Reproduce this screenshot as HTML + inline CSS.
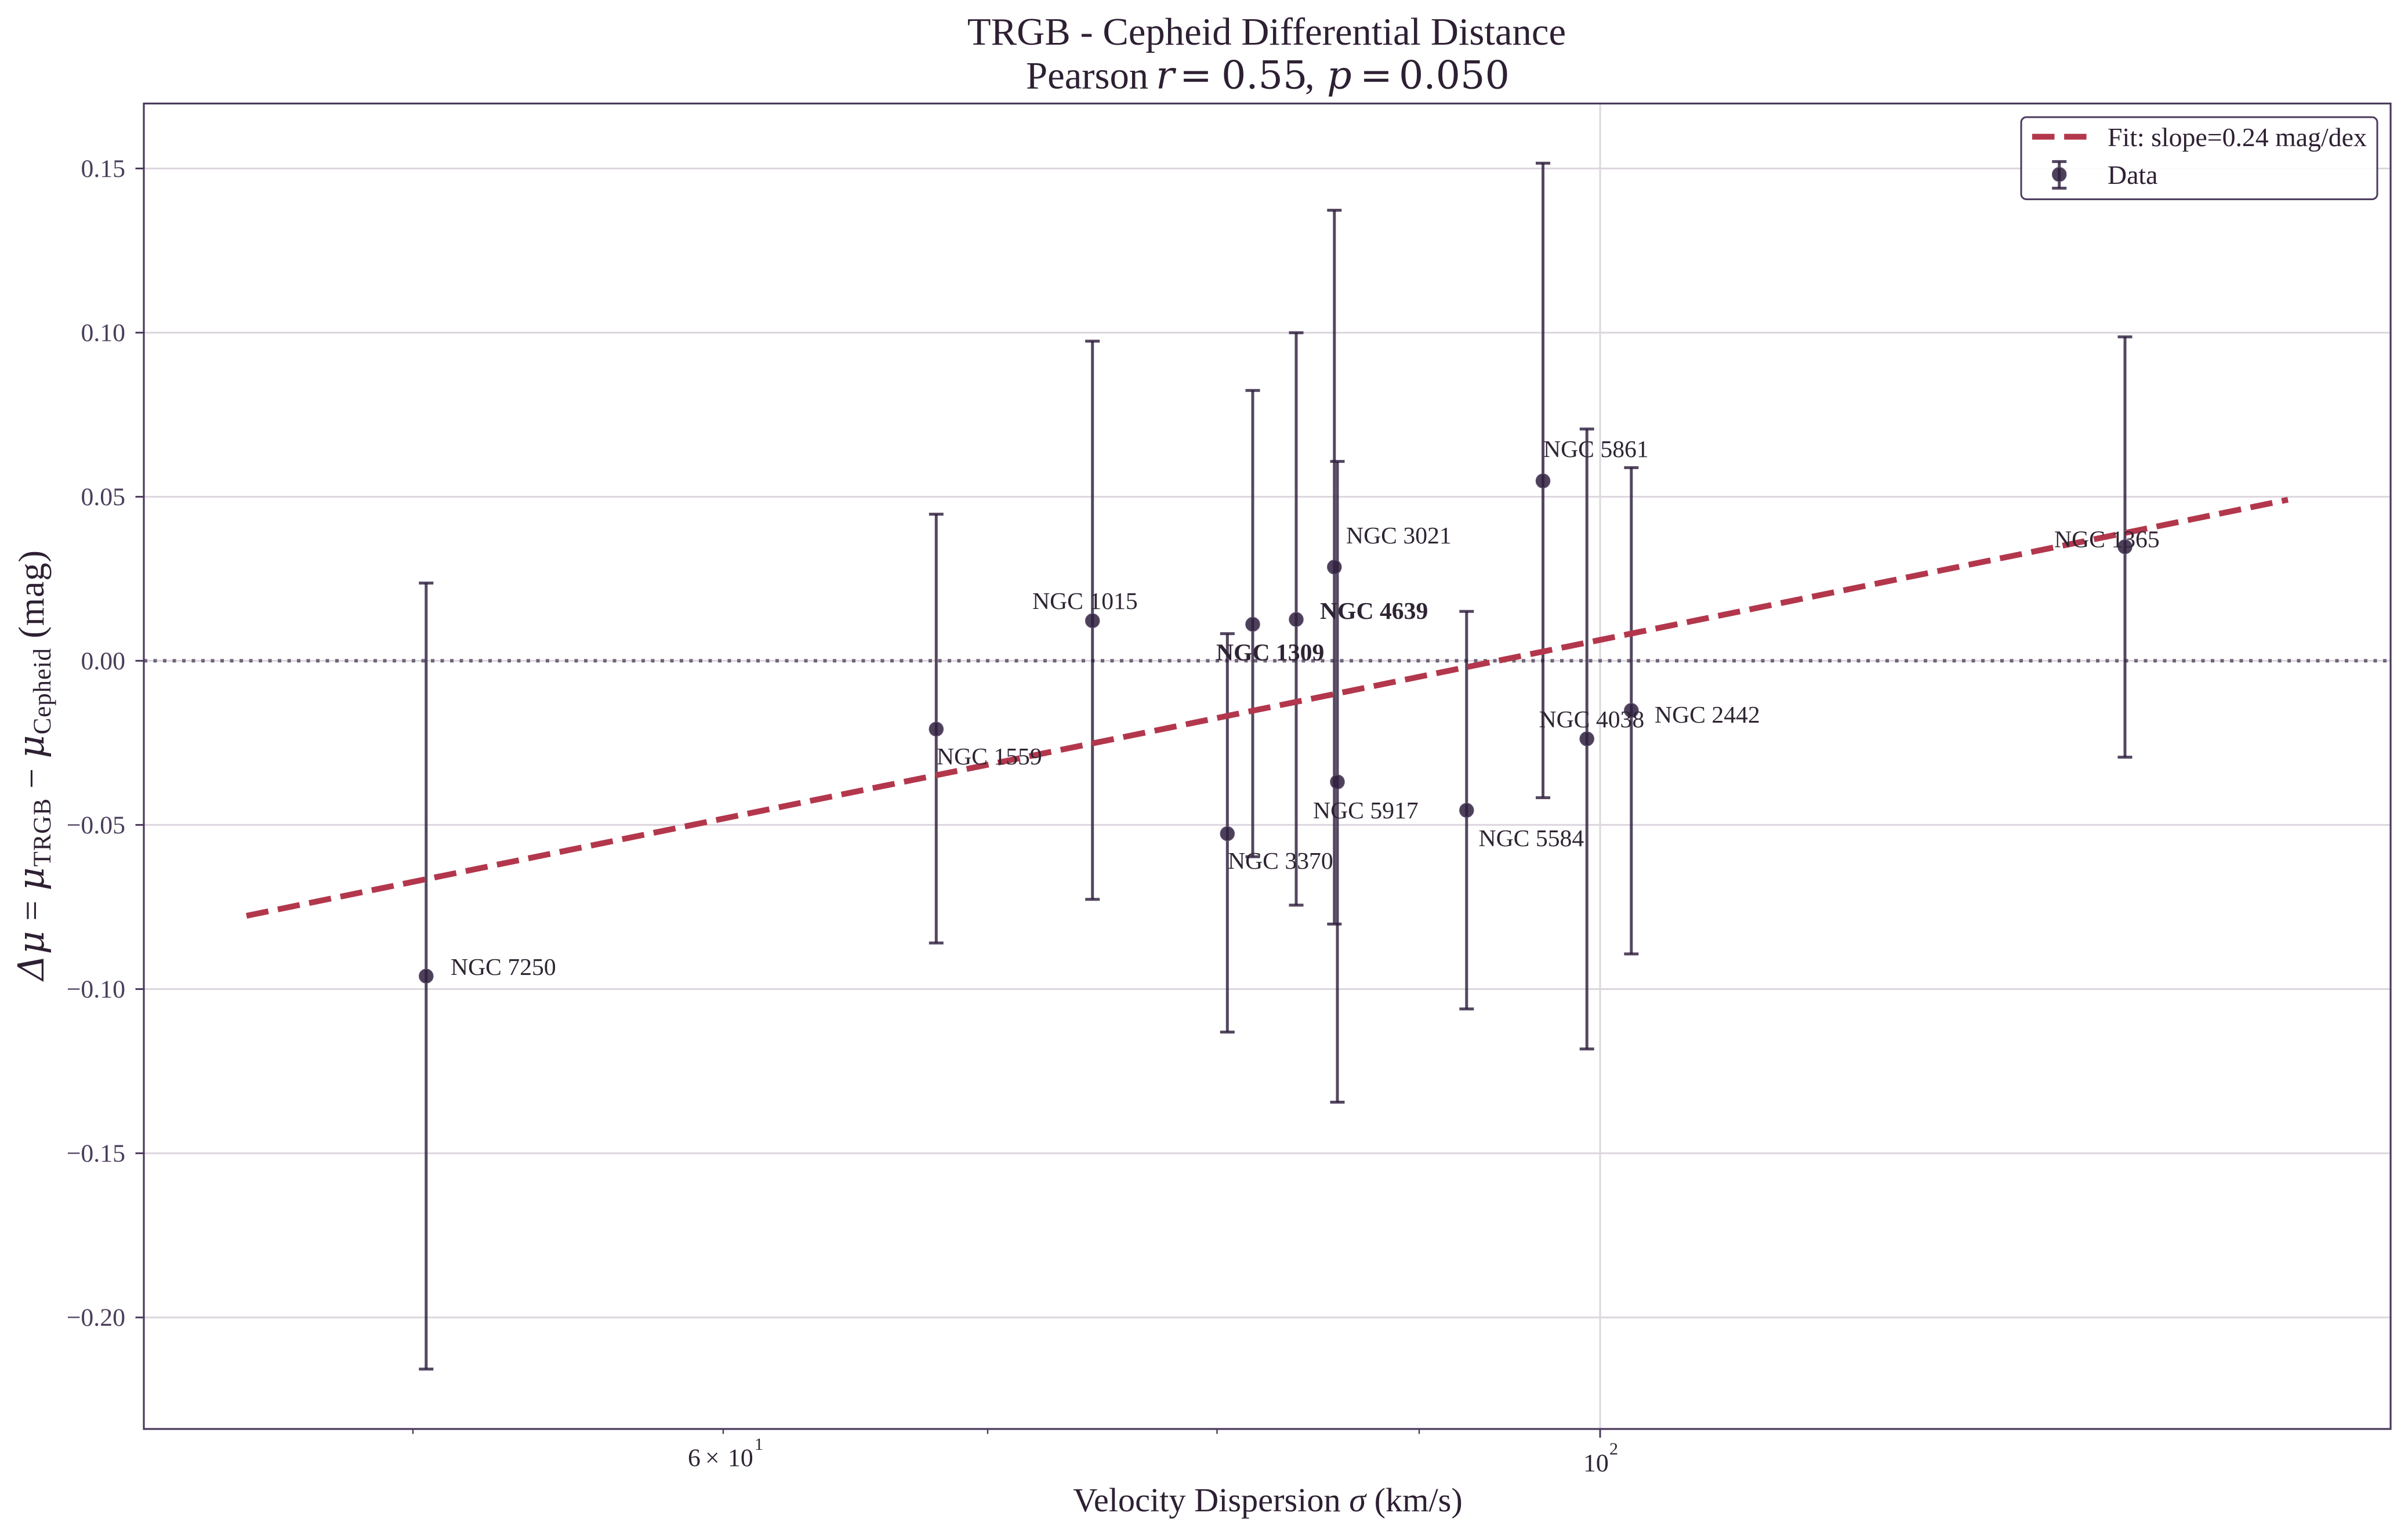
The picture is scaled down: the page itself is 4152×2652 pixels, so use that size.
<!DOCTYPE html>
<html><head><meta charset="utf-8"><style>html,body{margin:0;padding:0;background:#fff}svg{display:block}</style></head>
<body>
<svg xmlns="http://www.w3.org/2000/svg" width="4152" height="2652" viewBox="0 0 4152 2652" font-family="'Liberation Serif', serif">
<rect width="4152" height="2652" fill="#ffffff"/>

<!-- grid -->
<g stroke="#dcd6de" stroke-width="3">
<line x1="248" y1="290.5" x2="4122" y2="290.5"/>
<line x1="248" y1="573.6" x2="4122" y2="573.6"/>
<line x1="248" y1="856.6" x2="4122" y2="856.6"/>
<line x1="248" y1="1139.4" x2="4122" y2="1139.4"/>
<line x1="248" y1="1422.4" x2="4122" y2="1422.4"/>
<line x1="248" y1="1705.5" x2="4122" y2="1705.5"/>
<line x1="248" y1="1988.6" x2="4122" y2="1988.6"/>
<line x1="248" y1="2271.7" x2="4122" y2="2271.7"/>
<line x1="2759" y1="178.5" x2="2759" y2="2464"/>
</g>

<!-- zero line -->
<line x1="248" y1="1139.4" x2="4122" y2="1139.4" stroke="#6f6479" stroke-width="6" stroke-dasharray="6 10.5"/>

<!-- error bars -->
<g stroke="#2e1f3d" stroke-opacity="0.82" stroke-width="5" fill="none">
<line x1="734.8" y1="1005.4" x2="734.8" y2="2360.8"/><line x1="722.3" y1="1005.4" x2="747.3" y2="1005.4"/><line x1="722.3" y1="2360.8" x2="747.3" y2="2360.8"/>
<line x1="1614.3" y1="886.6" x2="1614.3" y2="1626"/><line x1="1601.8" y1="886.6" x2="1626.8" y2="886.6"/><line x1="1601.8" y1="1626" x2="1626.8" y2="1626"/>
<line x1="1883.7" y1="588.3" x2="1883.7" y2="1550.8"/><line x1="1871.2" y1="588.3" x2="1896.2" y2="588.3"/><line x1="1871.2" y1="1550.8" x2="1896.2" y2="1550.8"/>
<line x1="2116.3" y1="1092.6" x2="2116.3" y2="1779.6"/><line x1="2103.8" y1="1092.6" x2="2128.8" y2="1092.6"/><line x1="2103.8" y1="1779.6" x2="2128.8" y2="1779.6"/>
<line x1="2160" y1="673.2" x2="2160" y2="1477.3"/><line x1="2147.5" y1="673.2" x2="2172.5" y2="673.2"/><line x1="2147.5" y1="1477.3" x2="2172.5" y2="1477.3"/>
<line x1="2235" y1="573.7" x2="2235" y2="1560.7"/><line x1="2222.5" y1="573.7" x2="2247.5" y2="573.7"/><line x1="2222.5" y1="1560.7" x2="2247.5" y2="1560.7"/>
<line x1="2300.8" y1="362.5" x2="2300.8" y2="1593.4"/><line x1="2288.3" y1="362.5" x2="2313.3" y2="362.5"/><line x1="2288.3" y1="1593.4" x2="2313.3" y2="1593.4"/>
<line x1="2306" y1="795.6" x2="2306" y2="1900.5"/><line x1="2293.5" y1="795.6" x2="2318.5" y2="795.6"/><line x1="2293.5" y1="1900.5" x2="2318.5" y2="1900.5"/>
<line x1="2528.8" y1="1054.3" x2="2528.8" y2="1739.8"/><line x1="2516.3" y1="1054.3" x2="2541.3" y2="1054.3"/><line x1="2516.3" y1="1739.8" x2="2541.3" y2="1739.8"/>
<line x1="2660.5" y1="281.4" x2="2660.5" y2="1375.5"/><line x1="2648" y1="281.4" x2="2673" y2="281.4"/><line x1="2648" y1="1375.5" x2="2673" y2="1375.5"/>
<line x1="2736.2" y1="739.8" x2="2736.2" y2="1808.7"/><line x1="2723.7" y1="739.8" x2="2748.7" y2="739.8"/><line x1="2723.7" y1="1808.7" x2="2748.7" y2="1808.7"/>
<line x1="2812.8" y1="806.4" x2="2812.8" y2="1644.9"/><line x1="2800.3" y1="806.4" x2="2825.3" y2="806.4"/><line x1="2800.3" y1="1644.9" x2="2825.3" y2="1644.9"/>
<line x1="3664" y1="580.9" x2="3664" y2="1305.6"/><line x1="3651.5" y1="580.9" x2="3676.5" y2="580.9"/><line x1="3651.5" y1="1305.6" x2="3676.5" y2="1305.6"/>
</g>

<!-- markers -->
<g fill="#2e1f3d" fill-opacity="0.85" stroke="#5a4b6a" stroke-width="1.5">
<circle cx="734.8" cy="1683.1" r="12"/>
<circle cx="1614.3" cy="1257.2" r="12"/>
<circle cx="1883.7" cy="1070.4" r="12"/>
<circle cx="2116.3" cy="1437.5" r="12"/>
<circle cx="2160" cy="1076.5" r="12"/>
<circle cx="2235" cy="1068.1" r="12"/>
<circle cx="2300.8" cy="977.8" r="12"/>
<circle cx="2306" cy="1348.2" r="12"/>
<circle cx="2528.8" cy="1397.2" r="12"/>
<circle cx="2660.5" cy="829.3" r="12"/>
<circle cx="2736.2" cy="1274" r="12"/>
<circle cx="2812.8" cy="1225" r="12"/>
<circle cx="3664" cy="942.8" r="12"/>
</g>

<!-- fit line -->
<line x1="425" y1="1579.1" x2="3945" y2="861.7" stroke="#b3374c" stroke-width="10" stroke-dasharray="38.5 16.6"/>

<!-- annotations -->
<g font-size="41.67" fill="#2e2433">
<text x="777" y="1681">NGC 7250</text>
<text x="1615" y="1318">NGC 1559</text>
<text x="1780" y="1050">NGC 1015</text>
<text x="2117" y="1498">NGC 3370</text>
<text x="2097" y="1138.5" font-weight="bold">NGC 1309</text>
<text x="2276" y="1067" font-weight="bold">NGC 4639</text>
<text x="2321" y="937">NGC 3021</text>
<text x="2264" y="1411">NGC 5917</text>
<text x="2549.5" y="1459">NGC 5584</text>
<text x="2661" y="788">NGC 5861</text>
<text x="2653.5" y="1254">NGC 4038</text>
<text x="2853" y="1246">NGC 2442</text>
<text x="3542" y="943.6">NGC 1365</text>
</g>

<!-- spines -->
<rect x="248" y="178.5" width="3874" height="2285.5" fill="none" stroke="#4b3a5c" stroke-width="3.2"/>

<!-- ticks -->
<g stroke="#4b3a5c" stroke-width="3">
<line x1="233.5" y1="290.5" x2="248" y2="290.5"/>
<line x1="233.5" y1="573.6" x2="248" y2="573.6"/>
<line x1="233.5" y1="856.6" x2="248" y2="856.6"/>
<line x1="233.5" y1="1139.4" x2="248" y2="1139.4"/>
<line x1="233.5" y1="1422.4" x2="248" y2="1422.4"/>
<line x1="233.5" y1="1705.5" x2="248" y2="1705.5"/>
<line x1="233.5" y1="1988.6" x2="248" y2="1988.6"/>
<line x1="233.5" y1="2271.7" x2="248" y2="2271.7"/>
<line x1="2759" y1="2464" x2="2759" y2="2479"/>
<line x1="712" y1="2464" x2="712" y2="2472.5" stroke-width="2.4"/>
<line x1="1247" y1="2464" x2="1247" y2="2472.5" stroke-width="2.4"/>
<line x1="1703" y1="2464" x2="1703" y2="2472.5" stroke-width="2.4"/>
<line x1="2098.5" y1="2464" x2="2098.5" y2="2472.5" stroke-width="2.4"/>
<line x1="2447" y1="2464" x2="2447" y2="2472.5" stroke-width="2.4"/>
</g>
<g font-size="43.75" fill="#4b3d5a" text-anchor="end">
<text x="216" y="305">0.15</text>
<text x="216" y="588">0.10</text>
<text x="216" y="871">0.05</text>
<text x="216" y="1154">0.00</text>
<text x="216" y="1437">−0.05</text>
<text x="216" y="1720">−0.10</text>
<text x="216" y="2003">−0.15</text>
<text x="216" y="2286">−0.20</text>
</g>

<!-- x tick labels -->
<g font-size="43.75" fill="#2e2433">
<text x="1186" y="2528">6<tspan x="1216">×</tspan><tspan x="1255">10</tspan><tspan x="1301" dy="-28" font-size="30">1</tspan></text>
<text x="2730" y="2537">10<tspan x="2775" dy="-29" font-size="30">2</tspan></text>
</g>

<!-- x label -->
<text x="2186" y="2606" font-size="58.3" fill="#2e2033" text-anchor="middle">Velocity Dispersion <tspan font-style="italic">σ</tspan> (km/s)</text>

<!-- y label -->
<text transform="translate(75,1691) rotate(-90)" font-size="62" fill="#2e2033" textLength="742" lengthAdjust="spacing"><tspan font-family="'DejaVu Serif', serif" font-style="italic">Δμ</tspan> = <tspan font-family="'DejaVu Serif', serif" font-style="italic">μ</tspan><tspan font-size="43" dy="12">TRGB</tspan><tspan dy="-12"> − </tspan><tspan font-family="'DejaVu Serif', serif" font-style="italic">μ</tspan><tspan font-size="43" dy="12">Cepheid</tspan><tspan dy="-12"> (mag)</tspan></text>

<!-- title -->
<text x="2184" y="77" font-size="66.7" fill="#2e2033" text-anchor="middle">TRGB - Cepheid Differential Distance</text>
<g font-size="66.7" fill="#2e2033">
<text x="1769" y="152.7">Pearson</text>
<text x="1993" y="152.7" font-family="'DejaVu Serif', serif" font-style="italic">r</text>
<text x="2034" y="152.7" font-family="'DejaVu Serif', serif">=</text>
<text x="2106" y="152.7" font-family="'DejaVu Serif', serif">0.55</text>
<text x="2250" y="152.7">,</text>
<text x="2288" y="152.7" font-family="'DejaVu Serif', serif" font-style="italic">p</text>
<text x="2345" y="152.7" font-family="'DejaVu Serif', serif">=</text>
<text x="2412" y="152.7" font-family="'DejaVu Serif', serif">0.050</text>
</g>

<!-- legend -->
<rect x="3485" y="202" width="614" height="141.6" rx="9" ry="9" fill="#ffffff" fill-opacity="0.9" stroke="#4b3a5c" stroke-width="3"/>
<line x1="3504" y1="235.7" x2="3597.6" y2="235.7" stroke="#b3374c" stroke-width="10" stroke-dasharray="38.5 16.6"/>
<g stroke="#2e1f3d" stroke-opacity="0.82" stroke-width="5">
<line x1="3550.7" y1="278.6" x2="3550.7" y2="324.5"/>
<line x1="3538.2" y1="278.6" x2="3563.2" y2="278.6"/>
<line x1="3538.2" y1="324.5" x2="3563.2" y2="324.5"/>
</g>
<circle cx="3550.7" cy="300.8" r="12" fill="#2e1f3d" fill-opacity="0.85" stroke="#5a4b6a" stroke-width="1.5"/>
<g font-size="45.8" fill="#2e2033">
<text x="3634" y="251.8">Fit: slope=0.24 mag/dex</text>
<text x="3634" y="316.8">Data</text>
</g>
</svg>
</body></html>
